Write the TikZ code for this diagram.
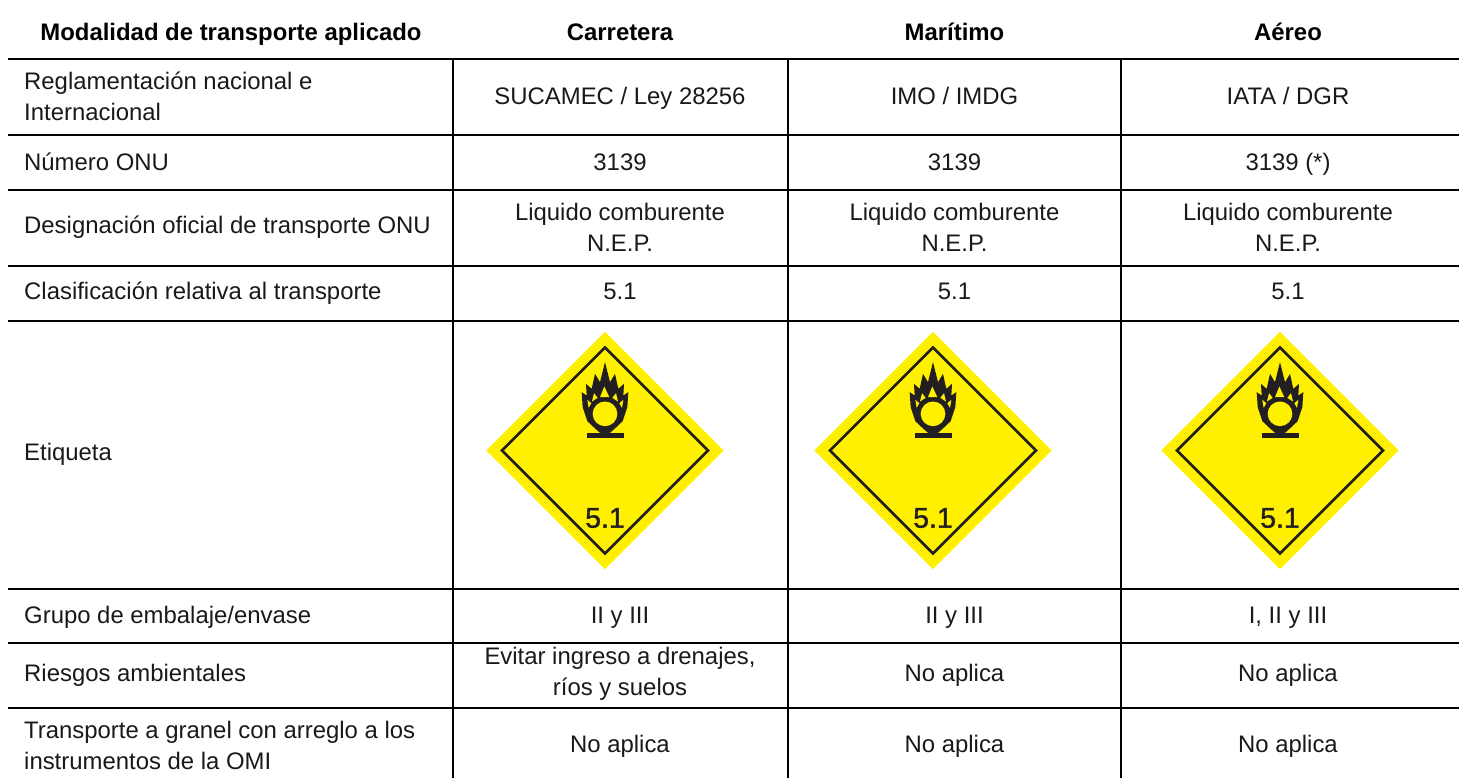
\documentclass[tikz,border=0pt]{standalone}
\usepackage{fontspec}
\setmainfont{Liberation Sans}
\newfontfamily\labelfont[FakeBold=1.2]{Liberation Sans}
\definecolor{hazy}{HTML}{FFF000}
\definecolor{inkk}{HTML}{231F20}
\newcommand{\mystrut}{\rule{0pt}{23pt}\rule[-8pt]{0pt}{8pt}}
\newcommand{\nl}{\\\mystrut}
\tikzset{
  x=1pt,y=-1pt,
  rule/.style={line width=2pt,black},
  cell/.style={font=\fontsize{23.9}{31}\selectfont,align=center,text=black!90,inner sep=0pt,execute at begin node=\mystrut},
  left cell/.style={cell,align=left,anchor=west},
  head/.style={cell,font=\fontsize{23.9}{31}\selectfont\bfseries,text=black},
  pics/label51/.style={code={
    \fill[hazy] (0,-118.7)--(118.7,0)--(0,118.7)--(-118.7,0)--cycle;
    \draw[inkk,line width=2.6pt,miter limit=10] (0,-103)--(103,0)--(0,103)--(-103,0)--cycle;
    \begin{scope}[shift={(-55,-100)},x=0.3333pt,y=-0.3333pt]
      \fill[inkk] (165,35)--(180,95)--(195,70)--(205,115)--(222,100)--(220,135)--(235,125)--(232,170)--(218,212)--(197,232)--(180,247)--(150,247)--(133,232)--(112,212)--(98,170)--(95,125)--(110,135)--(108,100)--(125,115)--(135,70)--(150,95)--cycle;
      \fill[inkk] (112,247) rectangle (222,264);
      \fill[hazy] (165,190) circle (37);
      \fill[hazy] (163,108)--(178,140)--(150,140)--cycle;
      \fill[hazy] (132,128)--(143,142)--(126,153)--cycle;
      \fill[hazy] (198,128)--(187,142)--(204,153)--cycle;
      \fill[hazy] (112,148)--(124,158)--(116,172)--cycle;
      \fill[hazy] (220,148)--(208,158)--(216,172)--cycle;
    \end{scope}
    \node[inner sep=0pt,text=inkk,font=\labelfont\fontsize{28.5}{28.5}\selectfont] at (0,67.5) {5.1};
  }}
}
\begin{document}
\begin{tikzpicture}
\useasboundingbox (0,0) rectangle (1459,778);
% rules
\foreach \y in {59,135,190,266,321,589,643,708} \draw[rule] (8,\y)--(1459,\y);
\foreach \x in {453,788,1121} \draw[rule] (\x,59)--(\x,778);
% header
\node[head] (h0) at (231,33) {Modalidad de transporte aplicado};
\node[head] (h1) at (620,33) {Carretera};
\node[head] (h2) at (954.5,33) {Marítimo};
\node[head] (h3) at (1288,33) {Aéreo};
% first column
\node[left cell] (a1) at (24,100.5) {Reglamentación nacional e\nl Internacional};
\node[left cell] (a2) at (24,163.5) {Número ONU};
\node[left cell] (a3) at (24,226) {Designación oficial de transporte ONU};
\node[left cell] (a4) at (24,291.5) {Clasificación relativa al transporte};
\node[left cell] (a5) at (24,453) {Etiqueta};
\node[left cell] (a6) at (24,615.5) {Grupo de embalaje/envase};
\node[left cell] (a7) at (24,674) {Riesgos ambientales};
\node[left cell] (a8) at (24,749) {Transporte a granel con arreglo a los\nl instrumentos de la OMI};
% carretera
\node[cell] (b1) at (620,97.5) {SUCAMEC / Ley 28256};
\node[cell] (b2) at (620,163.5) {3139};
\node[cell] (b3) at (620,231) {Liquido comburente\nl N.E.P.};
\node[cell] (b4) at (620,291.5) {5.1};
\node[cell] (b6) at (620,615.5) {II y III};
\node[cell] (b7) at (620,675.5) {Evitar ingreso a drenajes,\nl ríos y suelos};
\node[cell] (b8) at (620,745) {No aplica};
% maritimo
\node[cell] (c1) at (954.5,97.5) {IMO / IMDG};
\node[cell] (c2) at (954.5,163.5) {3139};
\node[cell] (c3) at (954.5,231) {Liquido comburente\nl N.E.P.};
\node[cell] (c4) at (954.5,291.5) {5.1};
\node[cell] (c6) at (954.5,615.5) {II y III};
\node[cell] (c7) at (954.5,674) {No aplica};
\node[cell] (c8) at (954.5,745) {No aplica};
% aereo
\node[cell] (d1) at (1288,97.5) {IATA / DGR};
\node[cell] (d2) at (1288,163.5) {3139 (*)};
\node[cell] (d3) at (1288,231) {Liquido comburente\nl N.E.P.};
\node[cell] (d4) at (1288,291.5) {5.1};
\node[cell] (d6) at (1288,615.5) {I, II y III};
\node[cell] (d7) at (1288,674) {No aplica};
\node[cell] (d8) at (1288,745) {No aplica};
% labels
\pic at (605,450.5) {label51};
\pic at (933,450.5) {label51};
\pic at (1280,450.5) {label51};
\end{tikzpicture}
\end{document}
